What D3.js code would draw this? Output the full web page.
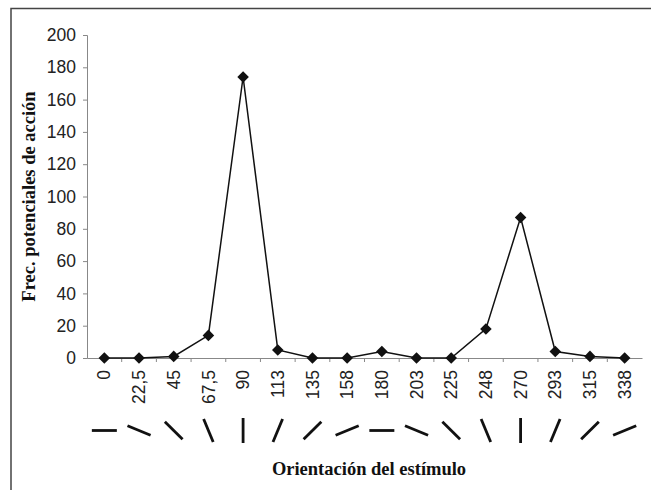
<!DOCTYPE html>
<html lang="es">
<head>
<meta charset="UTF-8">
<title>Frecuencia de potenciales de acción</title>
<style>
  body { margin: 0; background: #fff; }
  .tick text { font: 17.5px "Liberation Sans", Arial, sans-serif; fill: #222; }
  .title { font: bold 18.5px "Liberation Serif", "Times New Roman", serif; fill: #111; }
</style>
<script src="https://d3js.org/d3.v7.min.js"></script>
</head>
<body>
<script>
const width = 651, height = 490;

// orientation of the stimulus (degrees) and spike counts
const orientations = ["0", "22,5", "45", "67,5", "90", "113", "135", "158", "180", "203", "225", "248", "270", "293", "315", "338"];
const angles = [0, 22.5, 45, 67.5, 90, 112.5, 135, 157.5, 180, 202.5, 225, 247.5, 270, 292.5, 315, 337.5];
const spikes = [0, 0, 1, 14, 174, 5, 0, 0, 4, 0, 0, 18, 87, 4, 1, 0];
const yTicks = [0, 20, 40, 60, 80, 100, 120, 140, 160, 180, 200];

const margin = {left: 87, right: 9, top: 35, bottom: 132};

const svg = d3.select("body").append("svg")
    .attr("width", width)
    .attr("height", height);

// frame (only top and left edges are visible)
svg.append("path")
    .attr("d", `M11,${height} V8.5 H${width}`)
    .attr("fill", "none")
    .attr("stroke", "#444")
    .attr("stroke-width", 1.5);

const x = d3.scaleBand()
    .domain(orientations)
    .range([margin.left, width - margin.right]);

const y = d3.scaleLinear()
    .domain([0, 200])
    .range([height - margin.bottom, margin.top]);

// y axis
const yAxis = svg.append("g")
    .attr("transform", `translate(${margin.left},0)`)
    .call(d3.axisLeft(y).tickValues(yTicks).tickSize(4).tickPadding(7));
yAxis.selectAll("path, line").attr("stroke", "#888");

// x axis, ticks between categories
const xAxis = svg.append("g")
    .attr("transform", `translate(0,${y(0)})`)
    .call(d3.axisBottom(x).tickSize(0).tickSizeOuter(0).tickPadding(0));
xAxis.select(".domain").attr("stroke", "#888");
xAxis.selectAll(".tick text")
    .attr("transform", "rotate(-90)")
    .attr("text-anchor", "end")
    .attr("x", -12)
    .attr("y", 0)
    .attr("dy", "0.35em");

svg.append("g")
    .selectAll("line")
    .data(orientations.slice(1))
    .join("line")
    .attr("x1", d => x(d))
    .attr("x2", d => x(d))
    .attr("y1", y(0))
    .attr("y2", y(0) + 4)
    .attr("stroke", "#888");

const cx = d => x(d) + x.bandwidth() / 2;

// line + diamond markers
const line = d3.line()
    .x((d, i) => cx(orientations[i]))
    .y(d => y(d));

svg.append("path")
    .datum(spikes)
    .attr("d", line)
    .attr("fill", "none")
    .attr("stroke", "#111")
    .attr("stroke-width", 1.5);

svg.append("g")
    .selectAll("path")
    .data(spikes)
    .join("path")
    .attr("d", d3.symbol(d3.symbolDiamond2, 85))
    .attr("transform", (d, i) => `translate(${cx(orientations[i])},${y(d)})`)
    .attr("fill", "#111");

// orientation glyphs
const glyphY = 430.5, half = 12.5;
svg.append("g")
    .selectAll("line")
    .data(angles)
    .join("line")
    .attr("x1", (a, i) => cx(orientations[i]) - half * Math.cos(a * Math.PI / 180))
    .attr("y1", a => glyphY - half * Math.sin(a * Math.PI / 180))
    .attr("x2", (a, i) => cx(orientations[i]) + half * Math.cos(a * Math.PI / 180))
    .attr("y2", a => glyphY + half * Math.sin(a * Math.PI / 180))
    .attr("stroke", "#111")
    .attr("stroke-width", 2.8);

// titles
svg.append("text")
    .attr("class", "title")
    .attr("x", 369)
    .attr("y", 475)
    .attr("text-anchor", "middle")
    .text("Orientación del estímulo");

svg.append("text")
    .attr("class", "title")
    .attr("transform", `translate(35,${(y(0) + y(200)) / 2}) rotate(-90)`)
    .attr("text-anchor", "middle")
    .text("Frec. potenciales de acción");
</script>
</body>
</html>
